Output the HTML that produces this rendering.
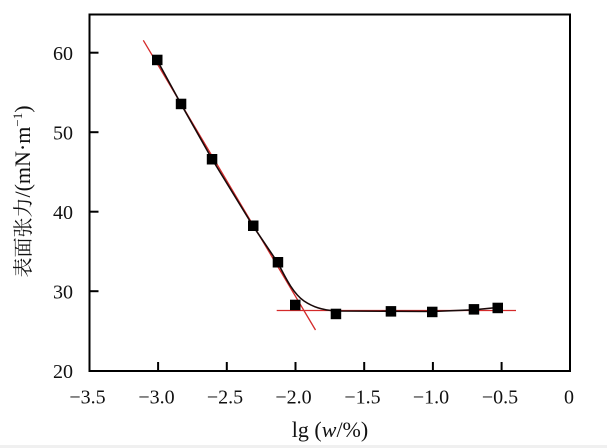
<!DOCTYPE html>
<html><head><meta charset="utf-8"><style>
html,body{margin:0;padding:0;background:#fff;}
svg{display:block;}
text{font-family:"Liberation Serif","Noto Serif CJK SC",serif;fill:#111;}
</style></head><body>
<svg width="607" height="448" viewBox="0 0 607 448" xmlns="http://www.w3.org/2000/svg">
<rect x="0" y="0" width="607" height="448" fill="#fff"/>
<rect x="0" y="445" width="607" height="3" fill="#f0f0f0"/>
<!-- red fit lines -->
<line x1="143.3" y1="40.3" x2="315.5" y2="330" stroke="#d42a2a" stroke-width="1.3"/>
<line x1="276.7" y1="310.5" x2="516" y2="310.5" stroke="#d42a2a" stroke-width="1.3"/>
<!-- black curve -->
<path d="M157,60 L181,104 L212,159 L253,226 L278,263 C287,281 294,294 304,301 C313,307 322,310 336,311 L432,311.5 L474,309.8 L497.5,307.5" fill="none" stroke="#1a0a0a" stroke-width="1.6"/>
<!-- markers -->
<g fill="#000">
<rect x="152" y="54.7" width="10.5" height="10.5"/>
<rect x="175.8" y="98.7" width="10.5" height="10.5"/>
<rect x="206.8" y="154" width="10.5" height="10.5"/>
<rect x="248" y="220.5" width="10.5" height="10.5"/>
<rect x="272.7" y="257" width="10.5" height="10.5"/>
<rect x="290" y="299.7" width="10.5" height="10.5"/>
<rect x="330.7" y="308.7" width="10.5" height="10.5"/>
<rect x="385.7" y="306.1" width="10.5" height="10.5"/>
<rect x="427" y="306.7" width="10.5" height="10.5"/>
<rect x="468.7" y="304.1" width="10.5" height="10.5"/>
<rect x="492.5" y="302.7" width="10.5" height="10.5"/>
</g>
<!-- axes box -->
<rect x="89.5" y="14.5" width="480.5" height="356.5" fill="none" stroke="#000" stroke-width="2"/>
<!-- ticks -->
<g stroke="#000" stroke-width="2">
<line x1="158.1" y1="371" x2="158.1" y2="362"/>
<line x1="226.8" y1="371" x2="226.8" y2="362"/>
<line x1="295.5" y1="371" x2="295.5" y2="362"/>
<line x1="364.2" y1="371" x2="364.2" y2="362"/>
<line x1="432.9" y1="371" x2="432.9" y2="362"/>
<line x1="501.6" y1="371" x2="501.6" y2="362"/>
<line x1="89.5" y1="52.7" x2="98.5" y2="52.7"/>
<line x1="89.5" y1="132.2" x2="98.5" y2="132.2"/>
<line x1="89.5" y1="211.7" x2="98.5" y2="211.7"/>
<line x1="89.5" y1="291.2" x2="98.5" y2="291.2"/>
</g>
<!-- x labels -->
<g font-size="20" text-anchor="middle">
<text x="87.5" y="403.5">−3.5</text>
<text x="156.5" y="403.5">−3.0</text>
<text x="225" y="403.5">−2.5</text>
<text x="293.5" y="403.5">−2.0</text>
<text x="362.5" y="403.5">−1.5</text>
<text x="431" y="403.5">−1.0</text>
<text x="500" y="403.5">−0.5</text>
<text x="569" y="403.5">0</text>
</g>
<!-- y labels -->
<g font-size="20" text-anchor="end">
<text x="73" y="59.8">60</text>
<text x="73" y="139.3">50</text>
<text x="73" y="218.8">40</text>
<text x="73" y="298.3">30</text>
<text x="73" y="377.8">20</text>
</g>
<!-- axis titles -->
<text x="330" y="437" font-size="22" text-anchor="middle">lg (<tspan font-style="italic">w</tspan>/%)</text>
<text transform="translate(30,191.5) rotate(-90)" font-size="22" text-anchor="middle"><tspan font-size="20">表面张力</tspan>/(mN·m<tspan font-size="13" dy="-8">−1</tspan><tspan dy="8">)</tspan></text>
</svg>
</body></html>
